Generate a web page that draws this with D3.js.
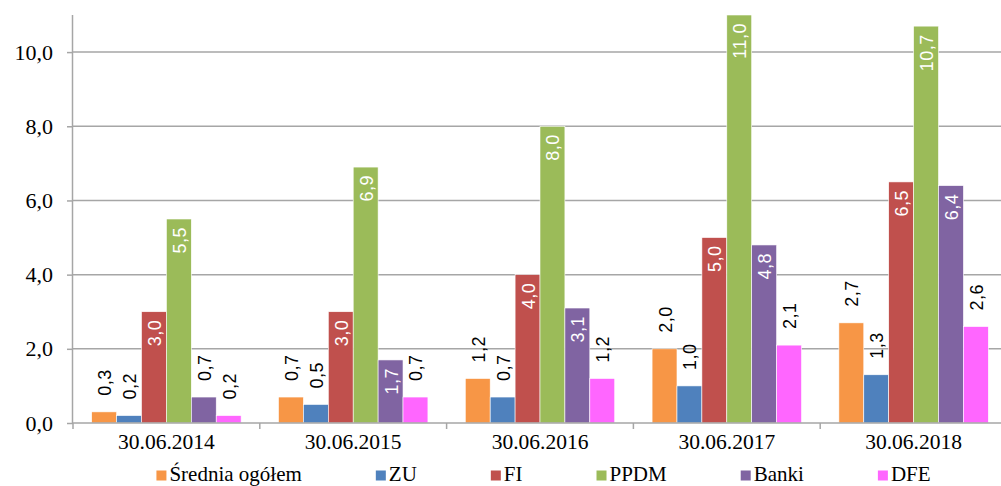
<!DOCTYPE html>
<html>
<head>
<meta charset="utf-8">
<script src="https://cdn.jsdelivr.net/npm/d3@7"></script>
<style>
  body { margin: 0; background: #fff; }
  svg { display: block; }
  .serif { font-family: "Liberation Serif", "Times New Roman", serif; }
</style>
</head>
<body>
<div class="chart"></div>
<script>
// Chart data
var categories = ["30.06.2014", "30.06.2015", "30.06.2016", "30.06.2017", "30.06.2018"];
var seriesNames = ["Średnia ogółem", "ZU", "FI", "PPDM", "Banki", "DFE"];
var srednia = [0.3, 0.7, 1.2, 2.0, 2.7];
var zu = [0.2, 0.5, 0.7, 1.0, 1.3];
var fi = [3.0, 3.0, 4.0, 5.0, 6.5];
var ppdm = [5.5, 6.9, 8.0, 11.0, 10.7];
var banki = [0.7, 1.7, 3.1, 4.8, 6.4];
var dfe = [0.2, 0.7, 1.2, 2.1, 2.6];
var yTicks = [0, 2, 4, 6, 8, 10];

var seriesValues = [srednia, zu, fi, ppdm, banki, dfe];
var colors = ["#F79646", "#4F81BD", "#C0504D", "#9BBB59", "#8064A2", "#FF66FF"];
// series whose labels sit inside the bar (when it is tall enough)
var insideSeries = ["FI", "PPDM", "Banki"];

// SVG dimensions
var svgWidth = 1001;
var svgHeight = 486;

var margin = { top: 15, right: -6, bottom: 63, left: 73 };
var chartWidth = svgWidth - margin.left - margin.right;
var chartHeight = svgHeight - margin.top - margin.bottom;

var svg = d3.select(".chart")
  .append("svg")
  .attr("width", svgWidth)
  .attr("height", svgHeight);

var chartGroup = svg.append("g")
  .attr("transform", `translate(${margin.left}, ${margin.top})`);

// number format with decimal comma
var locale = d3.formatLocale({ decimal: ",", thousands: " ", grouping: [3], currency: ["", " zł"] });
var fmt = locale.format(".1f");

// scales
var x0 = d3.scaleBand()
  .domain(categories)
  .range([0, chartWidth])
  .padding(0);

var x1 = d3.scaleBand()
  .domain(seriesNames)
  .range([x0.bandwidth() * 0.1, x0.bandwidth() * 0.9])
  .padding(0);

var yScale = d3.scaleLinear()
  .domain([0, 11])
  .range([chartHeight, 0]);

var gridColor = "#A6A6A6";

// gridlines
chartGroup.append("g")
  .selectAll("line")
  .data(yTicks.filter(d => d > 0))
  .enter()
  .append("line")
  .attr("x1", 0)
  .attr("x2", chartWidth)
  .attr("y1", d => yScale(d))
  .attr("y2", d => yScale(d))
  .attr("stroke", gridColor)
  .attr("stroke-width", 1.5);

// left axis
var leftAxis = d3.axisLeft(yScale)
  .tickValues(yTicks)
  .tickSize(6)
  .tickPadding(14)
  .tickFormat(fmt);

var yAxisG = chartGroup.append("g")
  .call(leftAxis)
  .attr("font-family", null)
  .attr("font-size", null);
yAxisG.select(".domain").attr("stroke", gridColor).attr("stroke-width", 1.5)
  .attr("d", `M-0.5,0V${chartHeight}`);
yAxisG.selectAll(".tick line").attr("stroke", gridColor).attr("stroke-width", 1.5);
yAxisG.selectAll(".tick text")
  .attr("class", "serif")
  .attr("fill", "#000")
  .style("font-size", "22px");

// bars
var groups = chartGroup.selectAll(".group")
  .data(categories)
  .enter()
  .append("g")
  .attr("class", "group")
  .attr("transform", d => `translate(${x0(d)}, 0)`);

var barData = function(cat, ci) {
  return seriesNames.map(function(name, si) {
    return { name: name, value: seriesValues[si][ci], color: colors[si] };
  });
};

groups.selectAll("rect")
  .data((d, i) => barData(d, i))
  .enter()
  .append("rect")
  .attr("x", d => x1(d.name))
  .attr("width", x1.bandwidth())
  .attr("y", d => yScale(d.value))
  .attr("height", d => chartHeight - yScale(d.value))
  .attr("fill", d => d.color)
  .attr("stroke", "#fff")
  .attr("stroke-width", 0.6);

// value labels, rotated
groups.selectAll(".vlabel")
  .data((d, i) => barData(d, i))
  .enter()
  .append("text")
  .attr("class", "vlabel")
  .each(function(d) {
    var inside = insideSeries.indexOf(d.name) >= 0 && d.value > 1;
    var cx = x1(d.name) + x1.bandwidth() / 2;
    var top = yScale(d.value);
    d3.select(this)
      .attr("transform", `translate(${cx + 7}, ${inside ? top + 8 : top - 16}) rotate(-90)`)
      .attr("text-anchor", inside ? "end" : "start")
      .attr("fill", inside ? "#fff" : "#000");
  })
  .style("font-family", "'Liberation Sans', Arial, sans-serif")
  .style("font-size", "18px")
  .style("letter-spacing", "0.5px")
  .text(d => fmt(d.value));

// bottom axis line with ticks at category boundaries
chartGroup.append("line")
  .attr("x1", 0)
  .attr("x2", chartWidth)
  .attr("y1", chartHeight)
  .attr("y2", chartHeight)
  .attr("stroke", gridColor)
  .attr("stroke-width", 1.5);

chartGroup.append("g")
  .selectAll("line")
  .data(categories)
  .enter()
  .append("line")
  .attr("x1", d => x0(d))
  .attr("x2", d => x0(d))
  .attr("y1", chartHeight)
  .attr("y2", chartHeight + 6)
  .attr("stroke", gridColor)
  .attr("stroke-width", 1.5);

chartGroup.append("g")
  .selectAll("text")
  .data(categories)
  .enter()
  .append("text")
  .attr("class", "serif")
  .attr("x", d => x0(d) + x0.bandwidth() / 2)
  .attr("y", chartHeight + 26)
  .attr("text-anchor", "middle")
  .style("font-size", "21.5px")
  .text(d => d);

// legend
var legend = svg.append("g");
var items = legend.selectAll("g")
  .data(seriesNames)
  .enter()
  .append("g");

items.append("rect")
  .attr("width", 10)
  .attr("height", 10)
  .attr("y", -10)
  .attr("fill", (d, i) => colors[i]);

items.append("text")
  .attr("class", "serif")
  .attr("x", 13)
  .attr("y", 0)
  .style("font-size", "21px")
  .text(d => d);

var gap = 74;
var pos = 0;
items.each(function() {
  var g = d3.select(this);
  g.attr("transform", `translate(${pos}, 0)`);
  pos += 13 + g.select("text").node().getComputedTextLength() + gap;
});
var legendWidth = pos - gap;
legend.attr("transform", `translate(${543.5 - legendWidth / 2}, 480.5)`);
</script>
</body>
</html>
